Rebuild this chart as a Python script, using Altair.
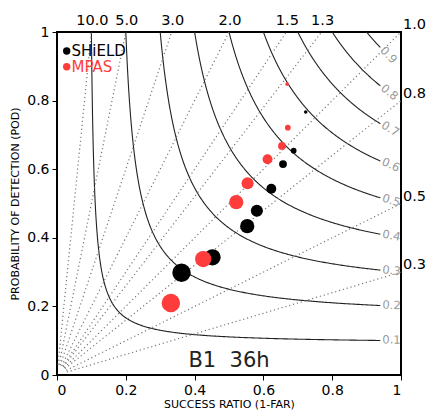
import numpy as np
import pandas as pd
import altair as alt

# ---------------- data ----------------
models = ["SHiELD", "MPAS"]
sr_shield = [0.723, 0.688, 0.657, 0.623, 0.581, 0.553, 0.452, 0.362]
pod_shield = [0.767, 0.654, 0.615, 0.543, 0.479, 0.434, 0.343, 0.298]
sr_mpas = [0.669, 0.671, 0.654, 0.612, 0.554, 0.521, 0.425, 0.331]
pod_mpas = [0.848, 0.721, 0.668, 0.629, 0.559, 0.504, 0.338, 0.210]
threshold_rank = [1, 2, 3, 4, 5, 6, 7, 8]

csi_levels = [0.1, 0.2, 0.3, 0.4, 0.5, 0.6, 0.7, 0.8, 0.9]
bias_levels = [0.3, 0.5, 0.8, 1.0, 1.3, 1.5, 2.0, 3.0, 5.0, 10.0]
tick_values = [0, 0.2, 0.4, 0.6, 0.8, 1.0]
panel_label = "B1\u00a0\u00a036h"

FONT = "DejaVu Sans"
RED = "#ff3c3c"
SR_END = 0.94

# ---------------- tables ----------------
rows = []
for name, srs, pods in [("SHiELD", sr_shield, pod_shield), ("MPAS", sr_mpas, pod_mpas)]:
    for s, p, r in zip(srs, pods, threshold_rank):
        radius = 2.0 + 1.2 * (r - 1)
        rows.append({"sr": s, "pod": p, "model": name, "area": float(np.pi * radius ** 2)})
pts = pd.DataFrame(rows)

crow = []
t = np.linspace(0, 1, 300)
for c in csi_levels:
    srs = c + (SR_END - c) * t ** 2
    pods = 1.0 / (1.0 / c + 1.0 - 1.0 / srs)
    for i, (s, p) in enumerate(zip(srs, pods)):
        crow.append({"sr": float(s), "pod": float(min(p, 1.0)), "csi": c, "i": i})
cont = pd.DataFrame(crow)

clab = []
for c in csi_levels:
    p = 1.0 / (1.0 / c + 1.0 - 1.0 / SR_END)
    ang = float(np.degrees(np.arctan((p / SR_END) ** 2)))
    clab.append({"sr": SR_END, "pod": p, "label": f"{c:.1f}", "angle": ang})
clab = pd.DataFrame(clab)

brow = []
for b in bias_levels:
    end = np.array([1.0, b]) if b <= 1 else np.array([1.0 / b, 1.0])
    start = end * (0.03 / np.linalg.norm(end))
    brow.append({"sr": float(start[0]), "pod": float(start[1]), "bias": b, "i": 0})
    brow.append({"sr": float(end[0]), "pod": float(end[1]), "bias": b, "i": 1})
bias_df = pd.DataFrame(brow)

right_lab = pd.DataFrame([{"sr": 1.0, "pod": b, "label": f"{b:.1f}"} for b in bias_levels if b <= 1])
top_lab = pd.DataFrame([{"sr": 1.0 / b, "pod": 1.0, "label": f"{b:.1f}"} for b in bias_levels if b > 1])
title_df = pd.DataFrame([{"sr": 0.5, "pod": 0.04, "label": panel_label}])
legend_df = pd.DataFrame({"model": models, "row": list(range(len(models)))})

# ---------------- encodings ----------------
xs = alt.Scale(domain=[0, 1], nice=False, zero=False)
ys = alt.Scale(domain=[0, 1], nice=False, zero=False)
xax = alt.Axis(values=tick_values, format="~g", title="SUCCESS RATIO (1-FAR)",
               titleBaseline="alphabetic", titleY=32)
yax = alt.Axis(values=tick_values, format="~g", title="PROBABILITY OF DETECTION (POD)", titlePadding=6)
cscale = alt.Scale(domain=models, range=["#000000", RED])


def X():
    return alt.X("sr:Q", scale=xs, axis=xax)


def Y():
    return alt.Y("pod:Q", scale=ys, axis=yax)


contours = alt.Chart(cont).mark_line(color="#222222", strokeWidth=1.1).encode(
    x=X(), y=Y(), detail="csi:N", order="i:Q")

bias_lines = alt.Chart(bias_df).mark_line(color="#777777", strokeWidth=1.2, strokeDash=[1.2, 2.8]).encode(
    x=X(), y=Y(), detail="bias:N", order="i:Q")

contour_labels = alt.Chart(clab).mark_text(
    align="left", baseline="middle", dx=2, font=FONT, fontSize=11.5, color="#999999").encode(
    x=X(), y=Y(), text="label:N", angle=alt.Angle("angle:Q", scale=None))

right_labels = alt.Chart(right_lab).mark_text(
    align="left", baseline="middle", dx=2, dy=-7, font=FONT, fontSize=14.5, color="black").encode(
    x=X(), y=Y(), text="label:N")

top_labels = alt.Chart(top_lab).mark_text(
    align="center", baseline="middle", dx=1, dy=-11, font=FONT, fontSize=14.5, color="black").encode(
    x=X(), y=Y(), text="label:N")

points = alt.Chart(pts).mark_circle(opacity=1).encode(
    x=X(), y=Y(),
    size=alt.Size("area:Q", scale=None),
    color=alt.Color("model:N", scale=cscale, legend=None),
)

panel = alt.Chart(title_df).mark_text(
    align="center", baseline="middle", font=FONT, fontSize=21, color="#222222").encode(
    x=X(), y=Y(), text="label:N")

legend_base = alt.Chart(legend_df).transform_calculate(ypx="19 + 15.7 * datum.row")
legend_dots = legend_base.mark_circle(opacity=1, size=55).encode(
    x=alt.value(9.7), y=alt.Y("ypx:Q", scale=None, axis=None),
    color=alt.Color("model:N", scale=cscale, legend=None))
legend_text = legend_base.mark_text(align="left", baseline="middle", font=FONT, fontSize=15).encode(
    x=alt.value(14.5), y=alt.Y("ypx:Q", scale=None, axis=None), text="model:N",
    color=alt.Color("model:N", scale=cscale, legend=None))

chart = alt.layer(contours, bias_lines, contour_labels, right_labels, top_labels, points, panel,
                  legend_dots, legend_text).properties(
    width=344, height=343,
    autosize=alt.AutoSizeParams(type="none"),
    padding={"left": 49, "top": 24, "right": 25, "bottom": 36},
).configure_view(stroke="black", strokeWidth=2).configure_axis(
    domain=False, grid=False, tickColor="black", tickSize=5, tickWidth=1,
    labelFont=FONT, labelFontSize=14, labelColor="black", labelPadding=3,
    titleFont=FONT, titleFontSize=11, titleFontWeight="normal", titleColor="black",
)

chart.save("out.html", embed_options={"renderer": "svg", "actions": False})
